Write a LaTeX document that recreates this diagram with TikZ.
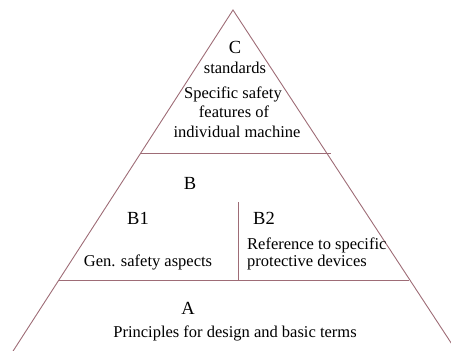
\documentclass[tikz,border=0pt]{standalone}
\usepackage{fontspec}
\setmainfont{Liberation Serif}
\definecolor{edge}{RGB}{158,108,118}
\begin{document}
\begin{tikzpicture}[x=1pt,y=-1pt,
  ln/.style={draw=edge,line width=0.9pt},
  big/.style={font=\fontsize{18.5}{20}\selectfont,inner sep=0pt},
  txt/.style={font=\fontsize{16.5}{18}\selectfont,inner sep=0pt}]
\useasboundingbox (0,0) rectangle (451,351);
\clip (0,0) rectangle (451,351);
\coordinate (apex) at (233,10);
\coordinate (bl) at (7.3,360);
\coordinate (br) at (462.3,360);
\coordinate (h1l) at (141,153);
\coordinate (h1r) at (331,153);
\coordinate (h2l) at (59,280);
\coordinate (h2r) at (409,280);
\coordinate (vt) at (238,202);
\coordinate (vb) at (238,280);
\draw[ln] (bl) -- (apex) -- (br);
\draw[ln] (h1l) -- (h1r);
\draw[ln] (h2l) -- (h2r);
\draw[ln] (vt) -- (vb);
\node[big] (c) at (235,47) {C};
\node[txt] (cstd) at (235,68) {standards};
\node[txt] (c1) at (233,94) {Specific safety};
\node[txt] (c2) at (234,112) {features of};
\node[txt] (c3) at (237,132) {individual machine};
\node[big] (b) at (190,183) {B};
\node[big] (b1) at (138,218) {B1};
\node[big] (b2) at (264,218) {B2};
\node[txt,anchor=west] (b2a) at (247,245) {Reference to specific};
\node[txt,anchor=west] (b2b) at (247,263) {protective devices};
\node[txt] (b1a) at (148,262) {Gen. safety aspects};
\node[big] (a) at (188,308) {A};
\node[txt] (a1) at (235,333) {Principles for design and basic terms};
\end{tikzpicture}
\end{document}
